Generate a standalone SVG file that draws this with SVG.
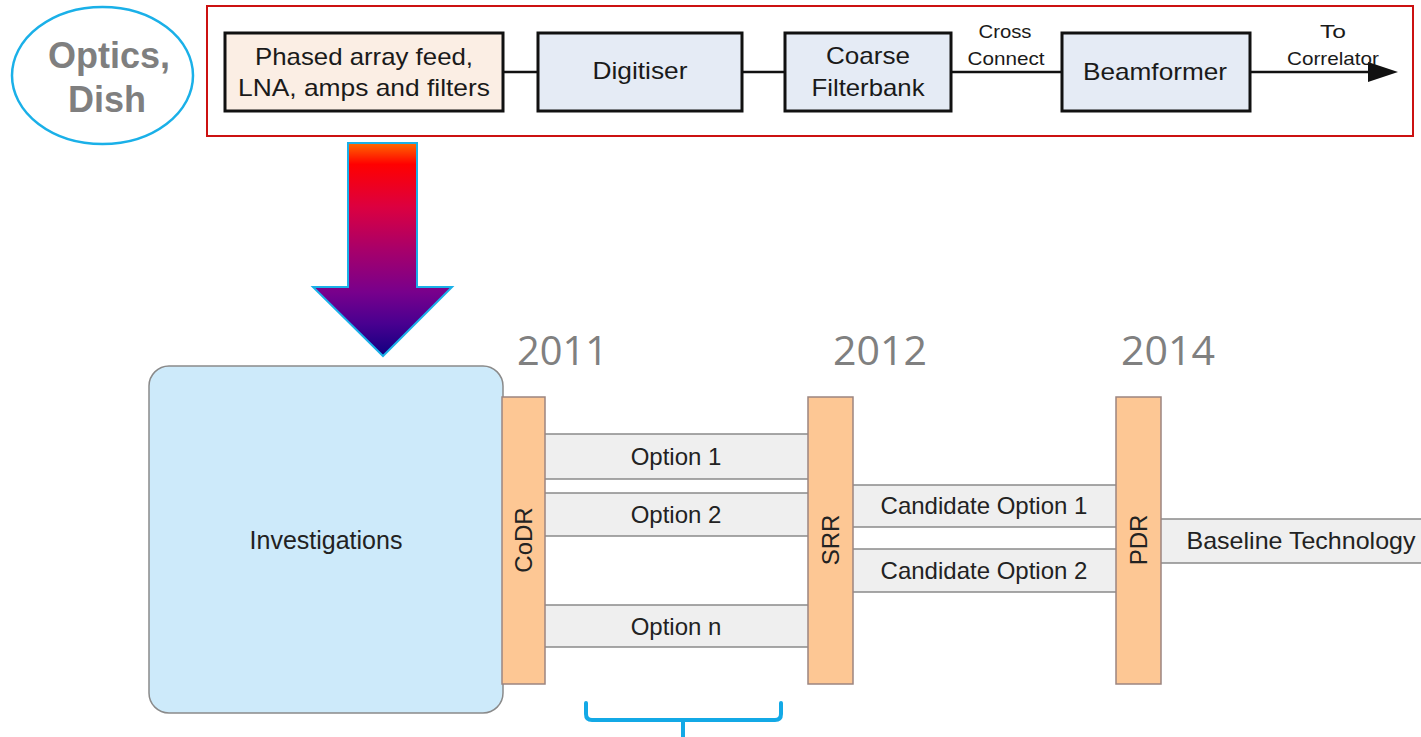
<svg xmlns="http://www.w3.org/2000/svg" width="1421" height="737" viewBox="0 0 1421 737">
<style>
.blk{fill:#fbeee4;stroke:#111;stroke-width:3}
.blu{fill:#e5ebf5;stroke:#111;stroke-width:3}
.t22{font-family:"Liberation Sans",Arial,sans-serif;font-size:24px;fill:#1a1a1a;text-anchor:middle}
.t18{font-family:"Liberation Sans",Arial,sans-serif;font-size:19px;fill:#1a1a1a;text-anchor:middle}
.t24{font-family:"Liberation Sans",Arial,sans-serif;font-size:24px;fill:#222;text-anchor:middle}
.yr{font-family:"Open Sans","Noto Sans",sans-serif;font-size:40px;fill:#808080}
.bar{fill:#fdc794;stroke:#9c8580;stroke-width:1.5}
.opt{fill:#efefef;stroke:#8a8a8a;stroke-width:1.5}
.con{stroke:#111;stroke-width:2.5;fill:none}
</style>
<defs>
<linearGradient id="g1" x1="0" y1="143" x2="0" y2="356" gradientUnits="userSpaceOnUse">
<stop offset="0" stop-color="#ff6a00"/>
<stop offset="0.1" stop-color="#ff0000"/>
<stop offset="0.3" stop-color="#dc0040"/>
<stop offset="0.5" stop-color="#a8006a"/>
<stop offset="0.7" stop-color="#78008c"/>
<stop offset="0.85" stop-color="#480090"/>
<stop offset="1" stop-color="#100080"/>
</linearGradient>
<marker id="ah" viewBox="0 0 30 20" markerWidth="30" markerHeight="20" refX="0" refY="10" markerUnits="userSpaceOnUse" orient="auto">
<path d="M0,0 L30,10 L0,20 z" fill="#111"/>
</marker>
</defs>

<g id="optics">
<ellipse cx="102.5" cy="75.5" rx="90.5" ry="68.5" fill="#fff" stroke="#1ab0e8" stroke-width="2.5"/>
<text x="109" y="68" font-family="'Liberation Sans',Arial,sans-serif" font-size="36" font-weight="bold" fill="#7f7f7f" text-anchor="middle">Optics,</text>
<text x="107" y="112" font-family="'Liberation Sans',Arial,sans-serif" font-size="36" font-weight="bold" fill="#7f7f7f" text-anchor="middle">Dish</text>
</g>

<g id="frame">
<rect x="207" y="6" width="1206" height="130" fill="none" stroke="#cc1111" stroke-width="2"/>
</g>

<g id="connectors">
<line class="con" x1="503" y1="72" x2="538" y2="72"/>
<line class="con" x1="742" y1="72" x2="785" y2="72"/>
<line class="con" x1="951" y1="72" x2="1062" y2="72"/>
<line class="con" x1="1250" y1="72" x2="1368" y2="72" marker-end="url(#ah)"/>
<text class="t18" x="1005" y="38" textLength="53" lengthAdjust="spacingAndGlyphs">Cross</text>
<text class="t18" x="1006" y="65" textLength="77" lengthAdjust="spacingAndGlyphs">Connect</text>
<text class="t18" x="1333" y="38" textLength="26" lengthAdjust="spacingAndGlyphs">To</text>
<text class="t18" x="1333" y="65" textLength="92" lengthAdjust="spacingAndGlyphs">Correlator</text>
</g>

<g id="feed">
<rect class="blk" x="225" y="33" width="278" height="78"/>
<text class="t22" x="364" y="65" textLength="218" lengthAdjust="spacingAndGlyphs">Phased array feed,</text>
<text class="t22" x="364" y="96" textLength="252" lengthAdjust="spacingAndGlyphs">LNA, amps and filters</text>
</g>
<g id="digitiser">
<rect class="blu" x="538" y="33" width="204" height="78"/>
<text class="t22" x="640" y="79" textLength="95" lengthAdjust="spacingAndGlyphs">Digitiser</text>
</g>
<g id="filterbank">
<rect class="blu" x="785" y="33" width="166" height="78"/>
<text class="t22" x="868" y="64" textLength="84" lengthAdjust="spacingAndGlyphs">Coarse</text>
<text class="t22" x="868" y="96" textLength="113" lengthAdjust="spacingAndGlyphs">Filterbank</text>
</g>
<g id="beamformer">
<rect class="blu" x="1062" y="33" width="188" height="78"/>
<text class="t22" x="1155" y="80" textLength="144" lengthAdjust="spacingAndGlyphs">Beamformer</text>
</g>

<g id="big-arrow">
<polygon points="348,143 417,143 417,287 452,287 383,356 313,287 348,287" fill="url(#g1)" stroke="#1ab0e8" stroke-width="2"/>
</g>

<g id="years">
<text class="yr" x="517" y="365" textLength="91" lengthAdjust="spacingAndGlyphs">2011</text>
<text class="yr" x="833" y="365" textLength="94" lengthAdjust="spacingAndGlyphs">2012</text>
<text class="yr" x="1121" y="365" textLength="94" lengthAdjust="spacingAndGlyphs">2014</text>
</g>

<g id="investigations">
<rect x="149" y="366" width="354" height="347" rx="20" ry="20" fill="#cdeafa" stroke="#8a8a8a" stroke-width="1.5"/>
<text x="326" y="549" font-family="'Liberation Sans',Arial,sans-serif" font-size="25" fill="#222" text-anchor="middle">Investigations</text>
</g>

<g id="option1">
<rect class="opt" x="540" y="434" width="272" height="45"/>
<text class="t24" x="676" y="465">Option 1</text>
</g>
<g id="option2">
<rect class="opt" x="540" y="493" width="272" height="43"/>
<text class="t24" x="676" y="523">Option 2</text>
</g>
<g id="optionn">
<rect class="opt" x="540" y="605" width="272" height="42"/>
<text class="t24" x="676" y="635">Option n</text>
</g>
<g id="cand1">
<rect class="opt" x="848" y="485" width="272" height="42"/>
<text class="t24" x="984" y="514">Candidate Option 1</text>
</g>
<g id="cand2">
<rect class="opt" x="848" y="549" width="272" height="43"/>
<text class="t24" x="984" y="579">Candidate Option 2</text>
</g>
<g id="baseline">
<rect class="opt" x="1156" y="519" width="280" height="44"/>
<text class="t24" x="1301" y="549" textLength="229" lengthAdjust="spacingAndGlyphs">Baseline Technology</text>
</g>

<g id="codr">
<rect class="bar" x="502" y="397" width="43" height="287"/>
<text class="t24" transform="translate(523.5,540) rotate(-90)" x="0" y="8.6">CoDR</text>
</g>
<g id="srr">
<rect class="bar" x="808" y="397" width="45" height="287"/>
<text class="t24" transform="translate(830.5,540) rotate(-90)" x="0" y="8.6">SRR</text>
</g>
<g id="pdr">
<rect class="bar" x="1116" y="397" width="45" height="287"/>
<text class="t24" transform="translate(1138.5,540) rotate(-90)" x="0" y="8.6">PDR</text>
</g>

<g id="brace">
<path d="M586,703 V714 Q586,720 592,720 H775 Q781,720 781,714 V703 M683,720 V737" fill="none" stroke="#13a9e6" stroke-width="4" stroke-linecap="round" stroke-linejoin="round"/>
</g>
</svg>
